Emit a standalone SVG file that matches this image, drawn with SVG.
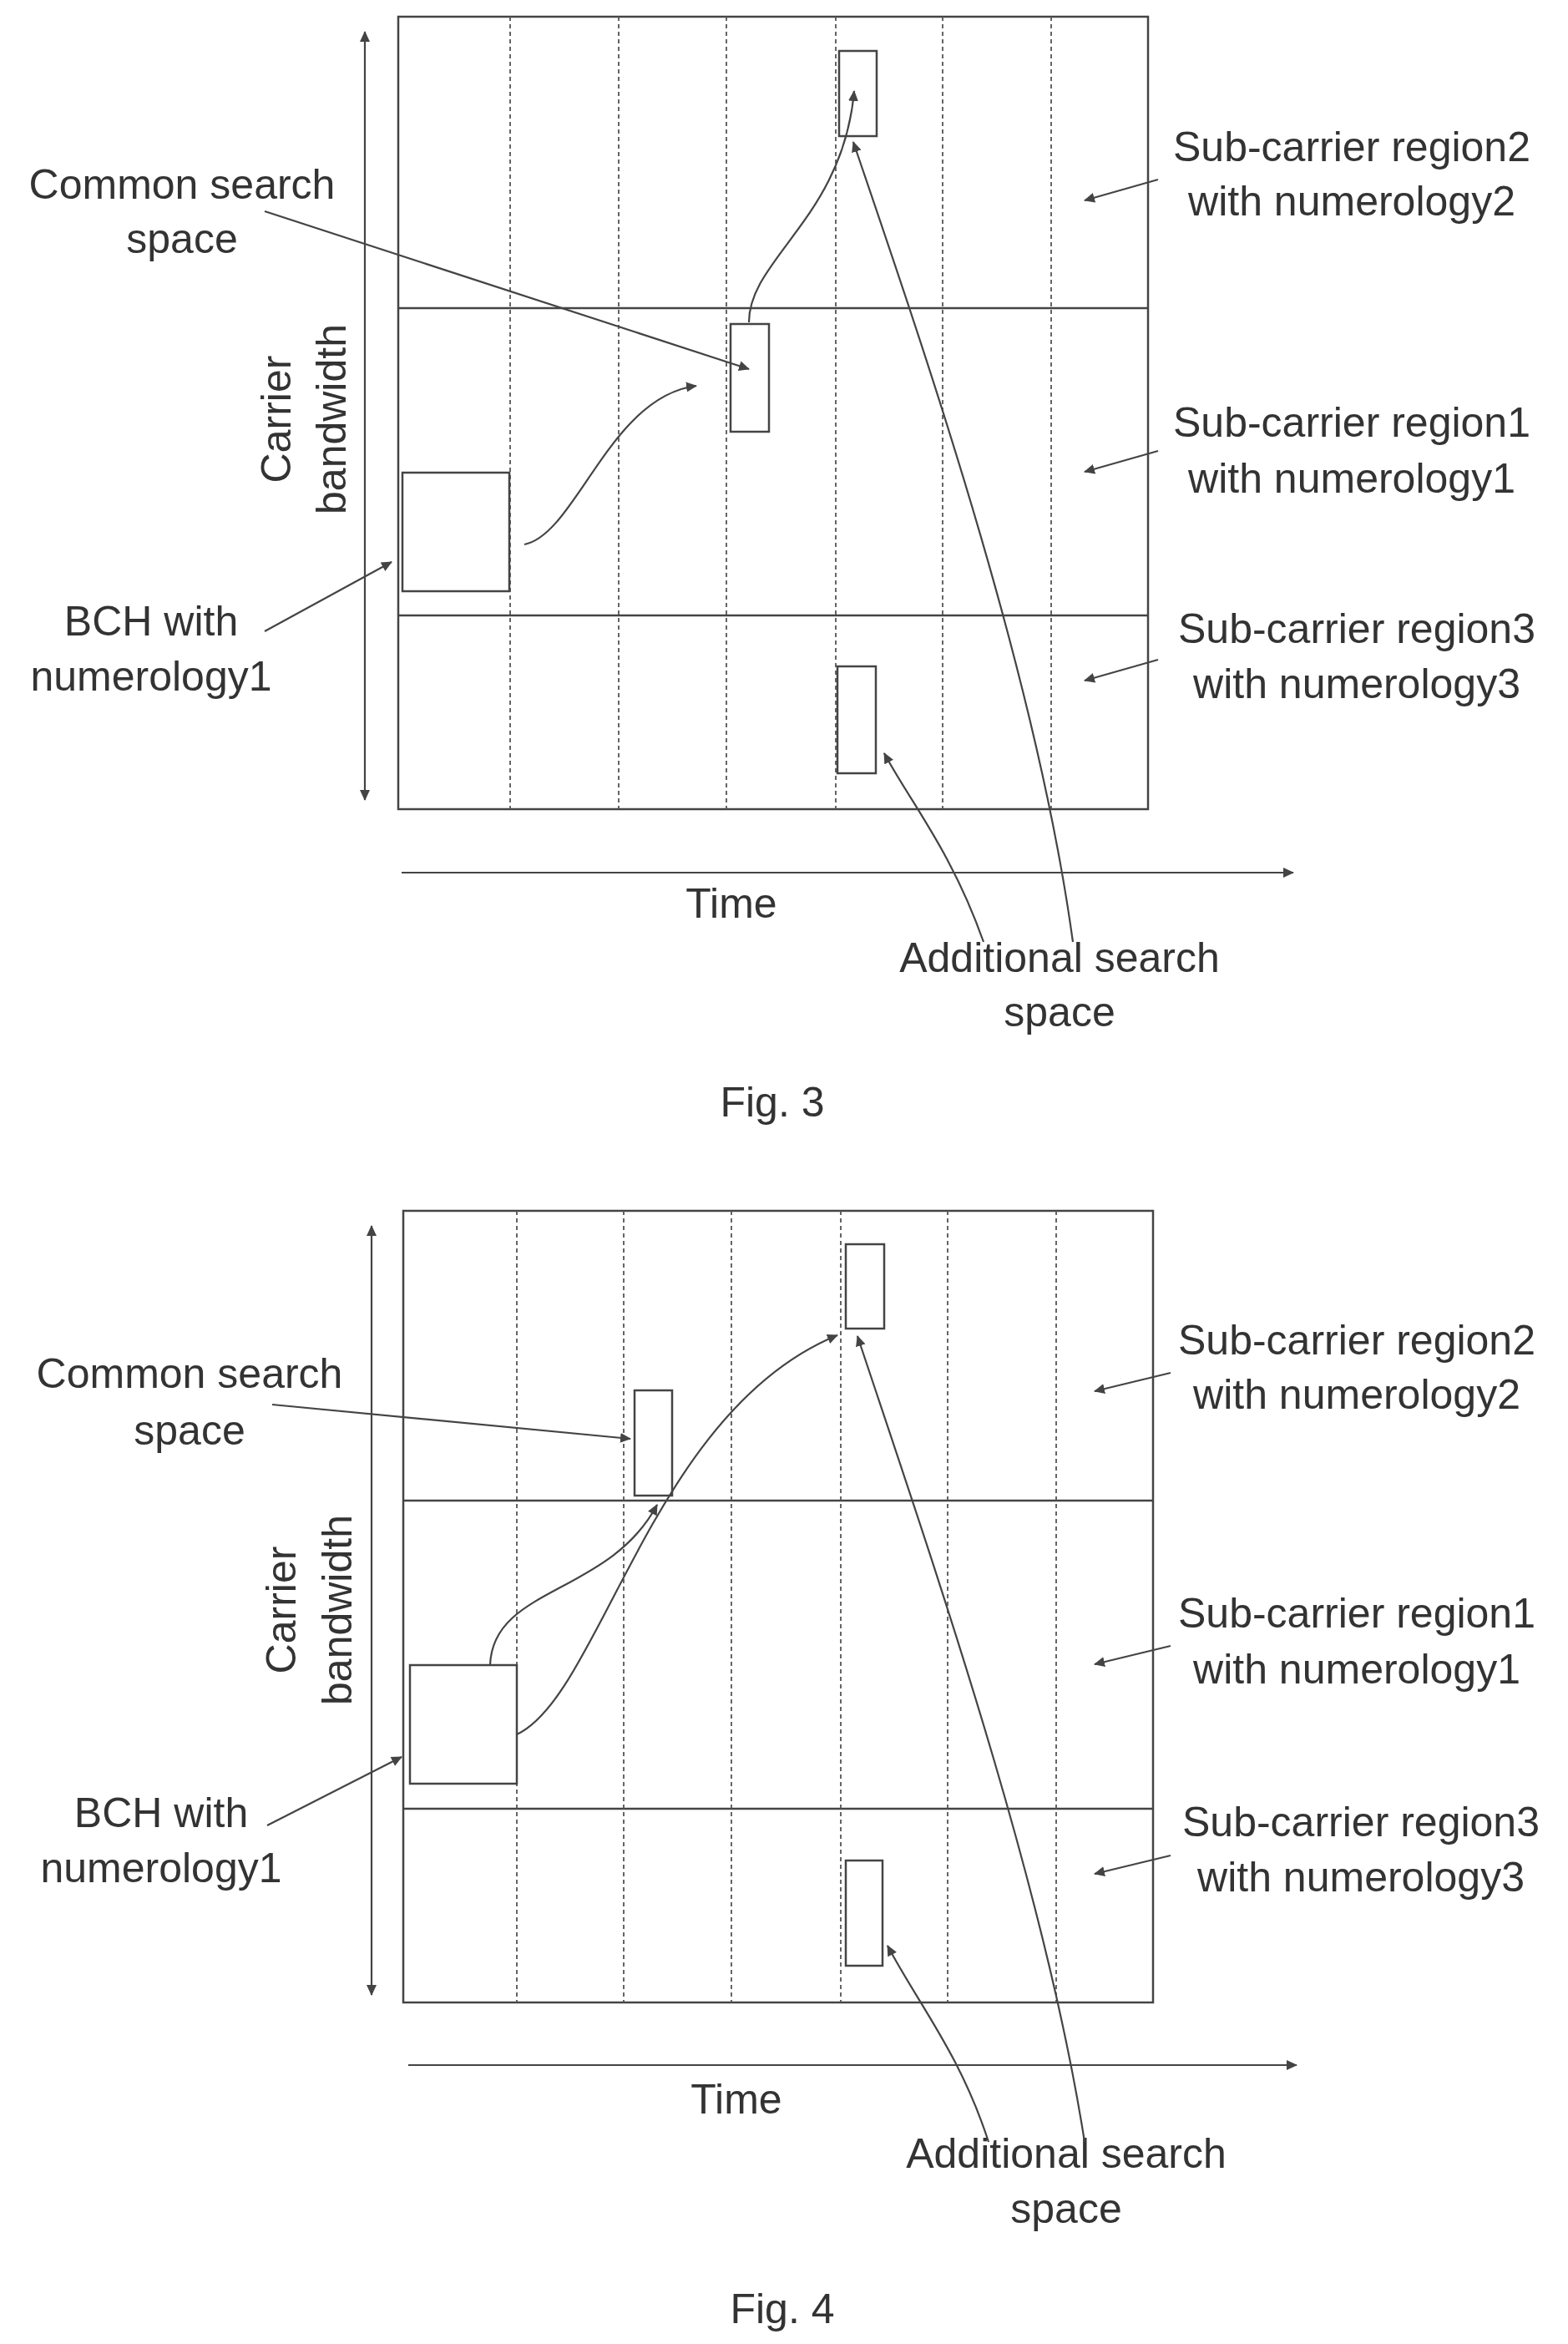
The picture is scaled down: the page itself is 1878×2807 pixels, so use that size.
<svg xmlns="http://www.w3.org/2000/svg" width="1878" height="2807" viewBox="0 0 1878 2807">
<style>
text{font-family:"Liberation Sans",Arial,sans-serif;font-size:50px;fill:#333;text-anchor:middle}
.g{fill:none;stroke:#444;stroke-width:2.5}
.d{stroke:#555;stroke-width:1.8;stroke-dasharray:5 4}
.b{fill:#fff;stroke:#444;stroke-width:2.5}
.a{fill:none;stroke:#444;stroke-width:2.2;marker-end:url(#ah)}
</style>
<defs>
<marker id="ah" viewBox="-12 -7 14 14" refX="0" refY="0" markerWidth="14" markerHeight="14" orient="auto" markerUnits="userSpaceOnUse"><path d="M-12,-6 L1,0 L-12,6 z" fill="#444"/></marker>
</defs>
<g id="fig3">
<g id="grid3">
<rect class="g" x="477" y="20" width="898" height="949"/>
<line class="g" x1="477" y1="369" x2="1375" y2="369"/>
<line class="g" x1="477" y1="737" x2="1375" y2="737"/>
<line class="d" x1="611" y1="20" x2="611" y2="969"/>
<line class="d" x1="741" y1="20" x2="741" y2="969"/>
<line class="d" x1="870" y1="20" x2="870" y2="969"/>
<line class="d" x1="1001" y1="20" x2="1001" y2="969"/>
<line class="d" x1="1129" y1="20" x2="1129" y2="969"/>
<line class="d" x1="1259" y1="20" x2="1259" y2="969"/>
</g>
<rect id="f3top" class="b" x="1005" y="61" width="45" height="102"/>
<rect id="f3css" class="b" x="875" y="388" width="46" height="129"/>
<rect id="f3bch" class="b" x="482" y="566" width="128" height="142"/>
<rect id="f3bot" class="b" x="1003" y="798" width="46" height="128"/>
<g id="f3labels">
<text x="218" y="238">Common search</text><text x="218" y="303">space</text>
<text x="1619" y="193">Sub-carrier region2</text><text x="1619" y="258">with numerology2</text>
<text x="1619" y="523">Sub-carrier region1</text><text x="1619" y="590">with numerology1</text>
<text x="1625" y="770">Sub-carrier region3</text><text x="1625" y="836">with numerology3</text>
<text x="181" y="761">BCH with</text><text x="181" y="827">numerology1</text>
<text transform="translate(348,502) rotate(-90)">Carrier</text>
<text transform="translate(414,502) rotate(-90)">bandwidth</text>
<text x="876" y="1099">Time</text>
<text x="1269" y="1164">Additional search</text><text x="1269" y="1229">space</text>
<text x="925" y="1337">Fig. 3</text>
</g>
</g>
<g id="fig4">
<g id="grid4">
<rect class="g" x="483" y="1450" width="898" height="948"/>
<line class="g" x1="483" y1="1797" x2="1381" y2="1797"/>
<line class="g" x1="483" y1="2166" x2="1381" y2="2166"/>
<line class="d" x1="619" y1="1450" x2="619" y2="2398"/>
<line class="d" x1="747" y1="1450" x2="747" y2="2398"/>
<line class="d" x1="876" y1="1450" x2="876" y2="2398"/>
<line class="d" x1="1007" y1="1450" x2="1007" y2="2398"/>
<line class="d" x1="1135" y1="1450" x2="1135" y2="2398"/>
<line class="d" x1="1265" y1="1450" x2="1265" y2="2398"/>
</g>
<rect id="f4top" class="b" x="1013" y="1490" width="46" height="101"/>
<rect id="f4css" class="b" x="760" y="1665" width="45" height="126"/>
<rect id="f4bch" class="b" x="491" y="1994" width="128" height="142"/>
<rect id="f4bot" class="b" x="1013" y="2228" width="44" height="126"/>
<g id="f4labels">
<text x="227" y="1662">Common search</text><text x="227" y="1730">space</text>
<text x="1625" y="1622">Sub-carrier region2</text><text x="1625" y="1687">with numerology2</text>
<text x="1625" y="1949">Sub-carrier region1</text><text x="1625" y="2016">with numerology1</text>
<text x="1630" y="2199">Sub-carrier region3</text><text x="1630" y="2265">with numerology3</text>
<text x="193" y="2188">BCH with</text><text x="193" y="2254">numerology1</text>
<text transform="translate(354,1928) rotate(-90)">Carrier</text>
<text transform="translate(421,1928) rotate(-90)">bandwidth</text>
<text x="882" y="2531">Time</text>
<text x="1277" y="2596">Additional search</text><text x="1277" y="2662">space</text>
<text x="937" y="2782">Fig. 4</text>
</g>
</g>
<g id="connectors">
<line class="a" x1="437" y1="500" x2="437" y2="38"/>
<line class="a" x1="437" y1="500" x2="437" y2="958"/>
<line class="a" x1="481" y1="1045" x2="1549" y2="1045"/>
<line class="a" x1="317" y1="253" x2="897" y2="442"/>
<line class="a" x1="317" y1="756" x2="469" y2="673"/>
<path class="a" d="M628,652 C690,640 730,475 834,462"/>
<path class="a" d="M897,386 C897,310 1010,260 1023,109"/>
<path class="a" d="M1178,1128 C1140,1020 1090,960 1059,902"/>
<path class="a" d="M1285,1128 C1240,800 1100,400 1022,170"/>
<line class="a" x1="1387" y1="215" x2="1299" y2="240"/>
<line class="a" x1="1387" y1="540" x2="1299" y2="565"/>
<line class="a" x1="1387" y1="790" x2="1299" y2="815"/>
<line class="a" x1="445" y1="1930" x2="445" y2="1468"/>
<line class="a" x1="445" y1="1930" x2="445" y2="2389"/>
<line class="a" x1="489" y1="2473" x2="1553" y2="2473"/>
<line class="a" x1="326" y1="1682" x2="755" y2="1723"/>
<line class="a" x1="320" y1="2186" x2="481" y2="2104"/>
<path class="a" d="M587,1994 C590,1900 730,1910 787,1802"/>
<path class="a" d="M619,2077 C720,2030 780,1690 1003,1599"/>
<path class="a" d="M1184,2565 C1150,2460 1100,2400 1063,2330"/>
<path class="a" d="M1299,2565 C1250,2250 1110,1850 1027,1600"/>
<line class="a" x1="1402" y1="1644" x2="1311" y2="1666"/>
<line class="a" x1="1402" y1="1971" x2="1311" y2="1993"/>
<line class="a" x1="1402" y1="2222" x2="1311" y2="2244"/>
</g>
</svg>
